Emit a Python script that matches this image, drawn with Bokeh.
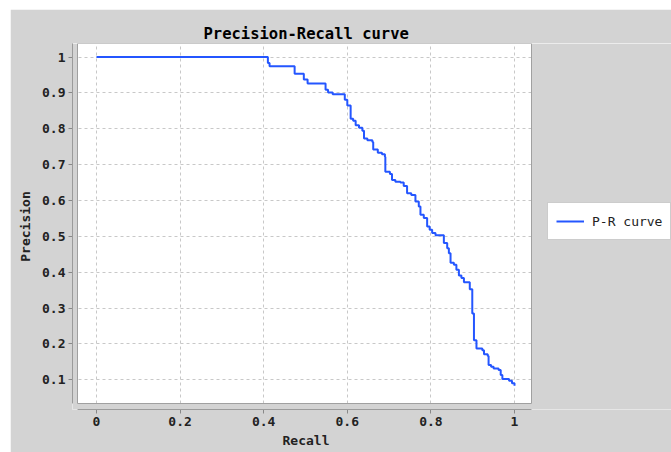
from bokeh.plotting import figure
from bokeh.models import Range1d, BoxAnnotation, Legend, LegendItem, Title
from bokeh.embed import file_html
from bokeh.resources import INLINE

# ---- data ----
recall = [0.0, 0.41, 0.414, 0.474, 0.496, 0.505, 0.548, 0.554, 0.565, 0.594,
          0.600, 0.608, 0.614, 0.620, 0.628, 0.636, 0.640, 0.648, 0.660, 0.662,
          0.673, 0.683, 0.690, 0.691, 0.702, 0.707, 0.715, 0.727, 0.735, 0.743,
          0.753, 0.763, 0.771, 0.775, 0.783, 0.791, 0.797, 0.803, 0.811, 0.831,
          0.839, 0.843, 0.847, 0.855, 0.861, 0.867, 0.873, 0.879, 0.893, 0.899,
          0.903, 0.909, 0.923, 0.927, 0.936, 0.938, 0.944, 0.950, 0.962, 0.967,
          0.971, 0.987, 0.994, 1.0]
precision = [1.0, 0.983, 0.974, 0.953, 0.937, 0.926, 0.909, 0.901, 0.896, 0.881,
             0.865, 0.828, 0.822, 0.810, 0.803, 0.794, 0.773, 0.768, 0.763, 0.742,
             0.733, 0.729, 0.722, 0.680, 0.674, 0.657, 0.652, 0.650, 0.640, 0.620,
             0.615, 0.597, 0.583, 0.560, 0.551, 0.527, 0.518, 0.509, 0.503, 0.481,
             0.467, 0.453, 0.426, 0.421, 0.407, 0.391, 0.384, 0.372, 0.352, 0.285,
             0.210, 0.187, 0.182, 0.171, 0.166, 0.141, 0.136, 0.131, 0.127, 0.113,
             0.102, 0.097, 0.090, 0.083]
x_ticks = [0, 0.2, 0.4, 0.6, 0.8, 1.0]
x_tick_labels = ["0", "0.2", "0.4", "0.6", "0.8", "1"]
y_ticks = [0.1, 0.2, 0.3, 0.4, 0.5, 0.6, 0.7, 0.8, 0.9, 1.0]
y_tick_labels = ["0.1", "0.2", "0.3", "0.4", "0.5", "0.6", "0.7", "0.8", "0.9", "1"]
series_name = "P-R curve"
x_label = "Recall"
y_label = "Precision"
chart_title = "Precision-Recall curve"

# ---- layout constants (pixels) ----
FIG_W, FIG_H = 661, 443
BL, BR, BT, BB = 62, 0, 34, 43
FRAME_W = FIG_W - BL - BR
FRAME_H = FIG_H - BT - BB
PLOT_W = 459      # width of the white plotting box incl. axis gap
PX_PER_X = 418.0
PX_PER_Y = 358.6
X0_OFF = 24.0     # frame left -> x=0
Y1_OFF = 13.5     # frame top -> y=1
GAP_L, GAP_B = 5.0, 6.0

x_start = -X0_OFF / PX_PER_X
x_end = x_start + FRAME_W / PX_PER_X
x_boxr = x_start + PLOT_W / PX_PER_X
y_end = 1 + Y1_OFF / PX_PER_Y
y_start = y_end - FRAME_H / PX_PER_Y
x_box = x_start + GAP_L / PX_PER_X
y_box = y_start + GAP_B / PX_PER_Y

BG = "#d3d3d3"
FONT = "DejaVu Sans Mono"
BLUE = "#2456ff"

p = figure(width=FIG_W, height=FIG_H, output_backend="svg", toolbar_location=None,
           x_range=Range1d(x_start, x_end), y_range=Range1d(y_start, y_end),
           min_border_left=BL, min_border_right=BR, min_border_top=BT, min_border_bottom=BB)
p.margin = (9, 0, 0, 10)
p.border_fill_color = BG
p.background_fill_color = "white"
p.outline_line_color = None

p.title.text = chart_title
p.title.align = "left"
p.title.text_font = FONT
p.title.text_font_size = "15.5px"
p.title.text_font_style = "bold"
p.title.text_color = "black"
p.title.standoff = 2
p.title.offset = 131

r = p.step(recall, precision, mode="after", line_color=BLUE, line_width=2)

for ax, ticks, labels, bounds in (
        (p.xaxis[0], x_ticks, x_tick_labels, (x_box, x_boxr)),
        (p.yaxis[0], y_ticks, y_tick_labels, (y_box, y_end))):
    ax.ticker = ticks
    ax.major_label_overrides = {t: l for t, l in zip(ticks, labels)}
    ax.bounds = bounds
    ax.axis_label_text_font = FONT
    ax.axis_label_text_font_size = "13px"
    ax.axis_label_text_font_style = "bold"
    ax.axis_label_text_color = "#222222"
    ax.major_label_text_font = FONT
    ax.major_label_text_font_size = "13px"
    ax.major_label_text_font_style = "bold"
    ax.major_label_text_color = "#222222"
    ax.axis_line_color = "#888888"
    ax.major_tick_line_color = "#888888"
    ax.minor_tick_line_color = None
    ax.major_tick_in = 0
    ax.major_tick_out = 4
    ax.major_label_standoff = 3
    ax.axis_label_standoff = 6

p.yaxis[0].axis_label = y_label

# x-axis title centred under the white plotting box
xt = Title(text=x_label, align="left", offset=210, standoff=4,
           text_font=FONT, text_font_size="13px", text_font_style="bold",
           text_color="#222222")
p.add_layout(xt, "below")

p.grid.grid_line_color = "#c8c8c8"
p.grid.grid_line_dash = "3 3"
p.grid.grid_line_width = 1

left_strip = BoxAnnotation(left=x_start, right=x_box, bottom=y_start, top=y_end,
                           fill_color=BG, fill_alpha=1, line_color=None, level="annotation")
bottom_strip = BoxAnnotation(left=x_start, right=x_end, bottom=y_start, top=y_box,
                             fill_color=BG, fill_alpha=1, line_color=None, level="annotation")
right_strip = BoxAnnotation(left=x_boxr, right=x_end, bottom=y_start, top=y_end,
                            fill_color=BG, fill_alpha=1, line_color=None, level="annotation")
box_outline = BoxAnnotation(left=x_box, right=x_boxr, bottom=y_box, top=y_end,
                            fill_alpha=0, line_color="#a0a0a0", line_alpha=1, line_width=1,
                            level="annotation")
p.add_layout(left_strip)
p.add_layout(bottom_strip)
p.add_layout(right_strip)
p.add_layout(box_outline)

legend = Legend(items=[LegendItem(label=series_name, renderers=[r])],
                location=(PLOT_W + 16, 169), margin=0, padding=8, spacing=0,
                glyph_width=28, label_standoff=8,
                label_text_font=FONT, label_text_font_size="13px",
                label_text_color="#222222",
                border_line_color="#999999", border_line_width=1,
                background_fill_color="white", background_fill_alpha=1)
p.add_layout(legend)

open("out.html", "w").write(file_html(p, INLINE))
